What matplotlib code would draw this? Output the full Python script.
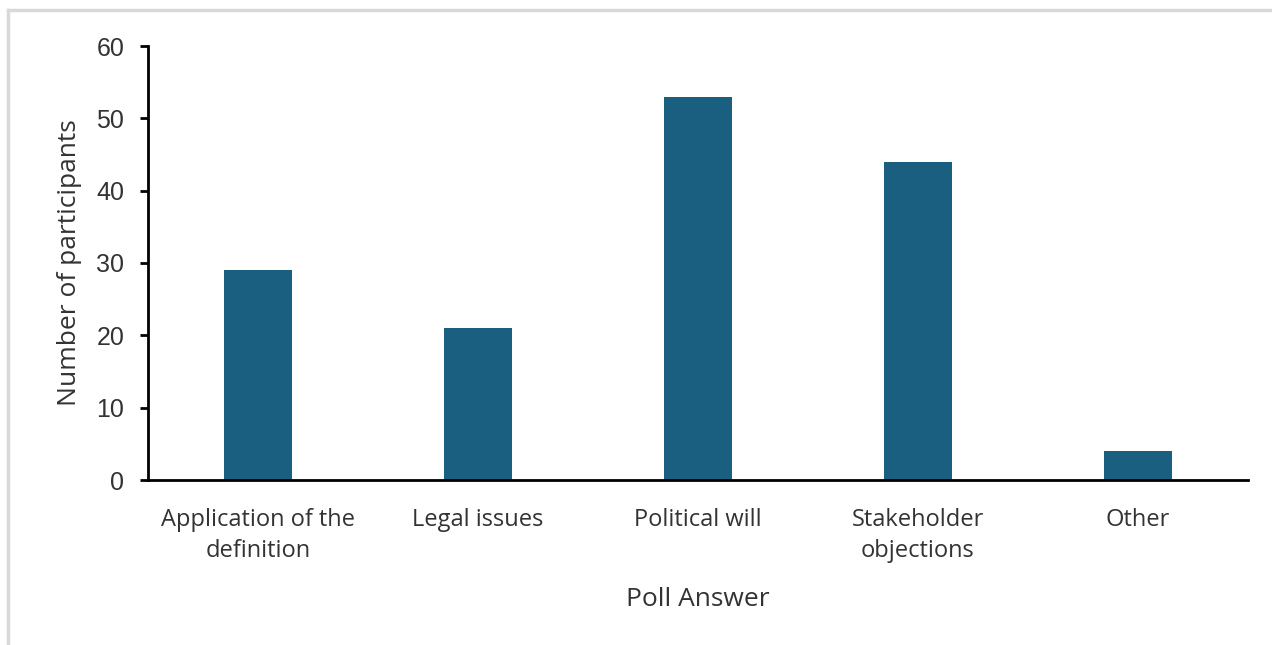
import matplotlib
matplotlib.use('Agg')
import matplotlib.pyplot as plt
from matplotlib.lines import Line2D

categories = ['Application of the\ndefinition', 'Legal issues', 'Political will',
              'Stakeholder\nobjections', 'Other']
participants = [29, 21, 53, 44, 4]
y_ticks = [0, 10, 20, 30, 40, 50, 60]

bar_color = '#1a5e80'
text_color = '#333333'

fig = plt.figure(figsize=(12.72, 6.45), dpi=100)
ax = fig.add_axes([148 / 1272, 1 - 480 / 645, 1100 / 1272, 434 / 645])

x = list(range(len(categories)))
ax.bar(x, participants, width=0.31, color=bar_color, zorder=2)

ax.set_xlim(-0.5, len(categories) - 0.5)
ax.set_ylim(0, 60)
ax.set_yticks(y_ticks)
ax.set_yticklabels([str(v) for v in y_ticks], fontfamily='Liberation Sans',
                   fontsize=18, color=text_color)
ax.set_xticks(x)
ax.set_xticklabels(categories, fontfamily='Open Sans', fontsize=17,
                   color=text_color, linespacing=1.4)

ax.tick_params(axis='x', length=0, pad=20)
ax.tick_params(axis='y', length=6, width=2, color='black', pad=11, direction='out')

for side in ['top', 'right']:
    ax.spines[side].set_visible(False)
for side in ['left', 'bottom']:
    ax.spines[side].set_linewidth(2)
    ax.spines[side].set_color('black')

ax.set_xlabel('Poll Answer', fontfamily='Open Sans', fontsize=19, color=text_color, labelpad=17)
ax.set_ylabel('Number of participants', fontfamily='Open Sans', fontsize=19,
              color=text_color, labelpad=10)

# light frame around the chart (top and left edges)
fig.add_artist(Line2D([8 / 1272, 1], [1 - 10 / 645, 1 - 10 / 645], color='#d9d9d9',
                      lw=2.5, transform=fig.transFigure))
fig.add_artist(Line2D([8 / 1272, 8 / 1272], [1 - 10 / 645, 1 - 643 / 645], color='#d9d9d9',
                      lw=2.5, transform=fig.transFigure))

plt.savefig('out.png', dpi=100)
plt.close(fig)
